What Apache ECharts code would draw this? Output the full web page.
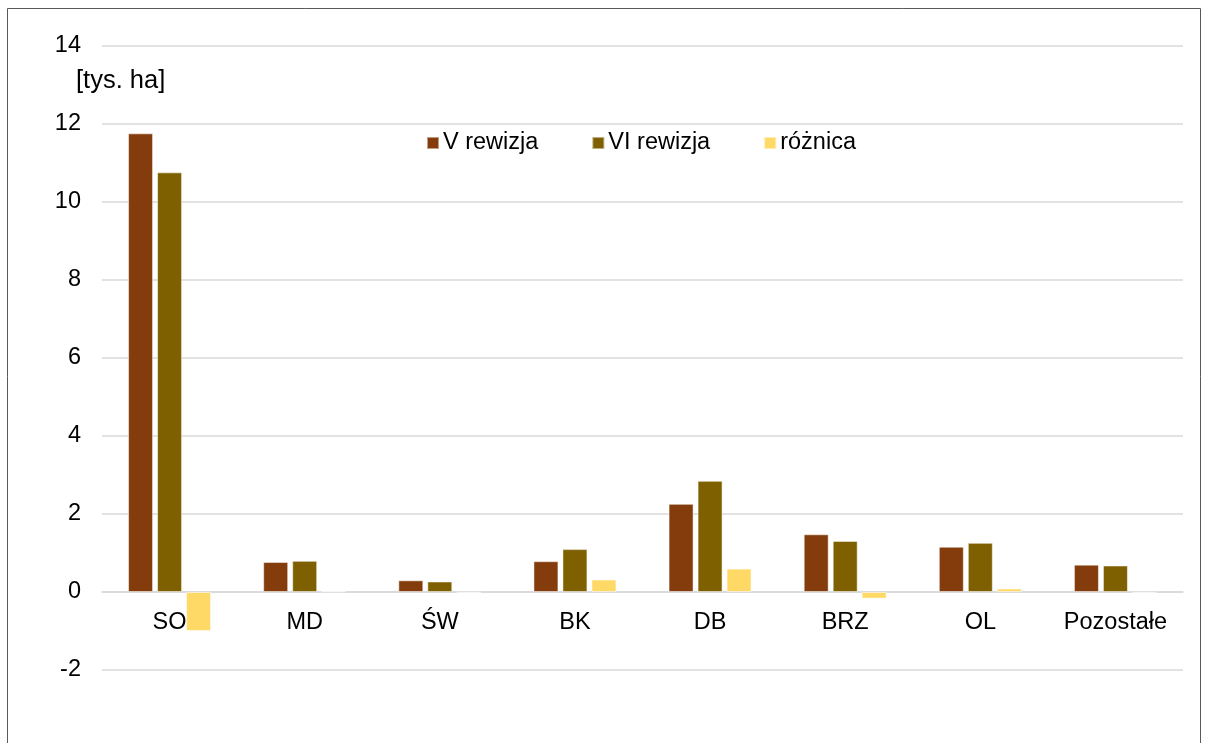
<!DOCTYPE html>
<html>
<head>
<meta charset="utf-8">
<script src="https://cdn.jsdelivr.net/npm/echarts@6/dist/echarts.min.js"></script>
<style>
  html, body { margin: 0; padding: 0; background: #fff; }
  #chart { width: 1208px; height: 743px; }
</style>
</head>
<body>
<div id="chart"></div>
<script>
var categories = ['SO', 'MD', 'ŚW', 'BK', 'DB', 'BRZ', 'OL', 'Pozostałe'];
var seriesNames = ['V rewizja', 'VI rewizja', 'różnica'];
var vRewizja = [11.76, 0.77, 0.30, 0.79, 2.26, 1.48, 1.16, 0.70];
var viRewizja = [10.76, 0.80, 0.27, 1.10, 2.85, 1.31, 1.26, 0.68];
var roznica = [-1.0, 0.02, -0.02, 0.32, 0.60, -0.17, 0.09, -0.02];
var yMin = -2, yMax = 14, yStep = 2;
var unitLabel = '[tys. ha]';

var font = '"Liberation Sans", Arial, sans-serif';
var fs = 23.5;
var colors = ['#843C0C', '#7F6000', '#FFD966'];

var chart = echarts.init(document.getElementById('chart'), null, { renderer: 'canvas' });

function bar(name, data, i) {
	return {
		name: name,
		type: 'bar',
		data: data,
		barWidth: 25,
		barGap: '16%',
		itemStyle: { color: colors[i], borderColor: 'rgba(255,255,255,0.5)', borderWidth: 1 }
	};
}

chart.setOption({
	animation: false,
	textStyle: { fontFamily: font },
	graphic: [
		{
			type: 'rect',
			shape: { x: 7.5, y: 8.5, width: 1193, height: 760 },
			style: { fill: 'none', stroke: '#595959', lineWidth: 1 },
			z: 0
		},
		{
			type: 'text',
			left: 76,
			top: 68,
			style: { text: unitLabel, font: '25.5px ' + font, fill: '#000' }
		}
	],
	legend: {
		data: seriesNames,
		left: 421,
		top: 126,
		itemWidth: 12,
		itemHeight: 12,
		itemGap: 53,
		icon: 'rect',
		textStyle: { fontSize: fs, color: '#000', fontFamily: font, padding: [0, 0, 0, -1] }
	},
	grid: { left: 102, right: 25, top: 46, bottom: 73, containLabel: false },
	xAxis: {
		type: 'category',
		data: categories,
		// sit the category axis on the zero line (-2 .. 0 is 78px)
		offset: -78,
		axisLine: { show: true, onZero: false, lineStyle: { color: '#d9d9d9', width: 1.5 } },
		axisTick: { show: false },
		axisLabel: { fontSize: fs, color: '#000', fontFamily: font, margin: 19 },
		z: 1
	},
	yAxis: {
		type: 'value',
		min: yMin,
		max: yMax,
		interval: yStep,
		axisLine: { show: false },
		axisTick: { show: false },
		axisLabel: { fontSize: fs, color: '#000', fontFamily: font, margin: 21, padding: [4, 0, 0, 0] },
		splitLine: { lineStyle: { color: '#d9d9d9', width: 1.5 } }
	},
	series: [
		bar(seriesNames[0], vRewizja, 0),
		bar(seriesNames[1], viRewizja, 1),
		bar(seriesNames[2], roznica, 2)
	]
});
</script>
</body>
</html>
